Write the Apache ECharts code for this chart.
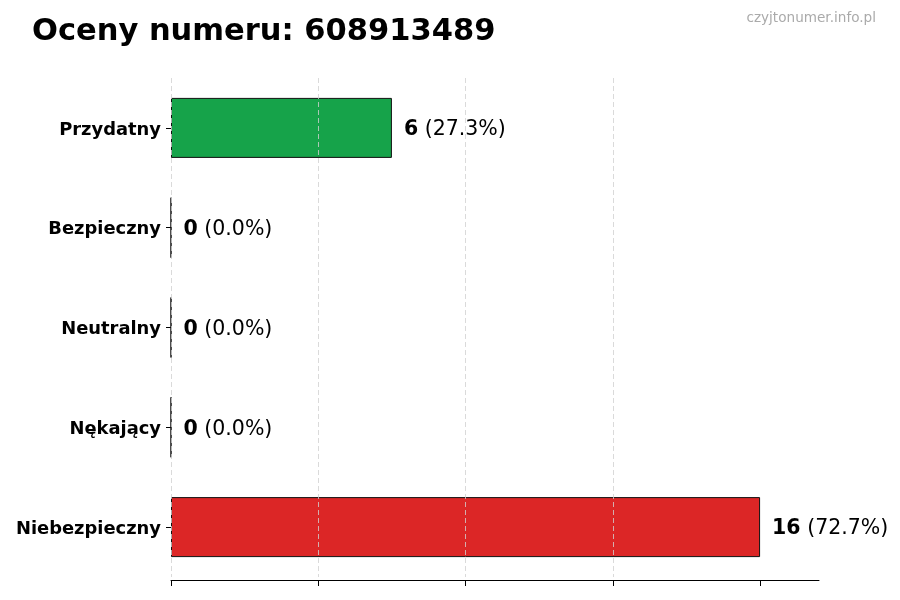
<!DOCTYPE html>
<html>
<head>
<meta charset="utf-8">
<script src="https://cdn.jsdelivr.net/npm/echarts@6/dist/echarts.min.js"></script>
<style>html,body{margin:0;padding:0;background:#fff}#c{width:900px;height:600px}</style>
</head>
<body>
<div id="c"></div>
<script>
const categories = ["Przydatny", "Bezpieczny", "Neutralny", "Nękający", "Niebezpieczny"];
const counts = [6, 0, 0, 0, 16];
const percents = ["27.3", "0.0", "0.0", "0.0", "72.7"];
const colors = ["#16a34a", "#16a34a", "#9ca3af", "#dc2626", "#dc2626"];
const xTicks = [0, 4, 8, 12, 16];
const xMax = 17.6;

const font = "DejaVu Sans";
const chart = echarts.init(document.getElementById('c'), null, {renderer: 'canvas'});
chart.setOption({
  animation: false,
  backgroundColor: '#ffffff',
  title: [{
    text: 'Oceny numeru: 608913489',
    left: 27, top: 12,
    textStyle: {fontFamily: font, fontWeight: 'bold', fontSize: 30.5, color: '#000'}
  }, {
    text: 'czyjtonumer.info.pl',
    right: 19, top: 6,
    textStyle: {fontFamily: font, fontWeight: 'normal', fontSize: 13.6, color: '#aaaaaa'}
  }],
  grid: {left: 171, right: 81, top: 78, bottom: 23, containLabel: false},
  xAxis: {
    type: 'value', min: 0, max: xMax, interval: 4, z: 5, offset: 3,
    axisLine: {show: true, lineStyle: {color: '#000', width: 1}},
    axisTick: {show: true, length: 6, lineStyle: {color: '#000'}, customValues: xTicks},
    axisLabel: {show: false},
    splitLine: {show: true, showMaxLine: false, lineStyle: {color: '#d0d0d0', type: [5, 3], width: 0.8}}
  },
  yAxis: {
    type: 'category', data: categories, inverse: true,
    axisLine: {show: false},
    axisTick: {show: true, alignWithLabel: true, length: 5, lineStyle: {color: '#000'}},
    axisLabel: {
      margin: 10,
      formatter: v => '{a|' + v + '}',
      rich: {a: {fontFamily: font, fontWeight: 'bold', fontSize: 17.9, color: '#000', padding: [4, 0, 0, 0]}}
    },
    splitLine: {show: false}
  },
  series: [{
    type: 'bar',
    barWidth: 60,
    data: counts.map((v, i) => ({value: v, itemStyle: {color: colors[i]}})),
    itemStyle: {borderColor: '#111', borderWidth: 1},
    label: {
      show: true, position: 'right', distance: 12, offset: [0, 2],
      formatter: p => '{b|' + counts[p.dataIndex] + '}{n| (' + percents[p.dataIndex] + '%)}',
      rich: {
        b: {fontFamily: font, fontWeight: 'bold', fontSize: 20.5, color: '#000'},
        n: {fontFamily: font, fontWeight: 'normal', fontSize: 20.5, color: '#000'}
      }
    }
  }]
});
</script>
</body>
</html>
